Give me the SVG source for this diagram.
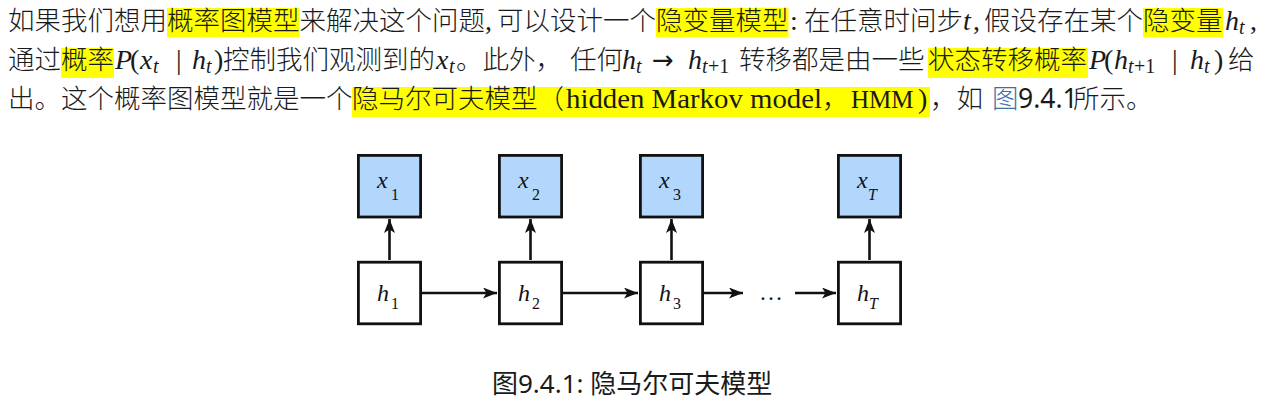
<svg xmlns="http://www.w3.org/2000/svg" width="1283" height="412" viewBox="0 0 1283 412">
<defs>
<style>
.c{font-family:"Noto Sans CJK SC","Noto Sans",sans-serif;font-size:26.5px;font-weight:300;fill:#1a1a1a}
.m{font-family:"Liberation Serif",serif;font-style:italic;font-size:28px;fill:#1a1a1a}
.r{font-family:"Liberation Serif",serif;font-size:28px;fill:#1a1a1a}
.ar{font-family:"DejaVu Sans",sans-serif;font-size:26px;fill:#1a1a1a}
.s{font-family:"Liberation Serif",serif;font-style:italic;font-size:20px;fill:#1a1a1a}
.su{font-family:"Liberation Serif",serif;font-size:20px;fill:#1a1a1a}
.hl{fill:#ffff00}
.lk{fill:#3f6fa8}
.box{stroke:#111;stroke-width:2.8}
.obs{fill:#b3d6fc}
.hid{fill:#ffffff}
.lbl{font-family:"Liberation Serif",serif;font-style:italic;font-size:24px;fill:#111}
.sub{font-family:"Liberation Serif",serif;font-size:16px;fill:#111}
.subi{font-family:"Liberation Serif",serif;font-style:italic;font-size:16px;fill:#111}
.arr{stroke:#111;stroke-width:2.6;fill:none;marker-end:url(#ah)}
.cap{font-family:"Noto Sans","Noto Sans CJK SC",sans-serif;font-size:26px;fill:#1a1a1a}
</style>
<marker id="ah" viewBox="0 0 14 11" refX="14" refY="5.5" markerWidth="14" markerHeight="11" markerUnits="userSpaceOnUse" orient="auto">
<path d="M0,0 L14,5.5 L0,11 L3.5,5.5 z" fill="#111"/>
</marker>
</defs>
<rect width="1283" height="412" fill="#ffffff"/>

<g id="paragraph">
<rect class="hl" x="167" y="8" width="132.5" height="29"/>
<rect class="hl" x="656" y="8" width="132.5" height="29"/>
<rect class="hl" x="1143" y="8" width="80" height="29"/>
<rect class="hl" x="61" y="48" width="53" height="30"/>
<rect class="hl" x="928" y="48" width="160" height="30"/>
<rect class="hl" x="352" y="87" width="578" height="30"/>

<text class="c" x="8" y="30">如果我们想用</text>
<text class="c" x="167" y="30">概率图模型</text>
<text class="c" x="299.5" y="30">来解决这个问题</text>
<text class="r" x="485" y="30">,</text>
<text class="c" x="497" y="30">可以设计一个</text>
<text class="c" x="656" y="30">隐变量模型</text>
<text class="r" x="790" y="30">:</text>
<text class="c" x="804" y="30">在任意时间步</text>
<text class="m" x="963" y="30">t</text>
<text class="r" x="973" y="30">,</text>
<text class="c" x="984" y="30">假设存在某个</text>
<text class="c" x="1143" y="30">隐变量</text>
<text class="m" x="1225" y="30">h</text><text class="s" x="1239" y="34">t</text>
<text class="r" x="1250" y="30">,</text>

<text class="c" x="8" y="69">通过</text>
<text class="c" x="61" y="69">概率</text>
<text class="m" x="115" y="69">P</text>
<text class="r" x="130" y="69">(</text>
<text class="m" x="140" y="69">x</text><text class="s" x="153" y="73">t</text>
<text class="r" x="176" y="69">|</text>
<text class="m" x="192" y="69">h</text><text class="s" x="206" y="73">t</text>
<text class="r" x="214" y="69">)</text>
<text class="c" x="223" y="69">控制我们观测到的</text>
<text class="m" x="436" y="69">x</text><text class="s" x="449" y="73">t</text>
<text class="c" x="456" y="69">。此外，</text>
<text class="c" x="570" y="69">任何</text>
<text class="m" x="622" y="69">h</text><text class="s" x="636" y="73">t</text>
<text class="ar" x="652" y="69">→</text>
<text class="m" x="688" y="69">h</text><text class="s" x="702" y="73">t</text><text class="su" x="708" y="73">+1</text>
<text class="c" x="739" y="69">转移都是由一些</text>
<text class="c" x="928" y="69">状态转移概率</text>
<text class="m" x="1089" y="69">P</text>
<text class="r" x="1104" y="69">(</text>
<text class="m" x="1114" y="69">h</text><text class="s" x="1128" y="73">t</text><text class="su" x="1134" y="73">+1</text>
<text class="r" x="1172" y="69">|</text>
<text class="m" x="1190" y="69">h</text><text class="s" x="1204" y="73">t</text>
<text class="r" x="1214" y="69">)</text>
<text class="c" x="1228" y="69">给</text>

<text class="c" x="8" y="108">出。这个概率图模型就是一个</text>
<text class="c" x="352" y="108">隐马尔可夫模型（</text>
<text class="r" x="566" y="108" textLength="256" lengthAdjust="spacingAndGlyphs">hidden Markov model</text>
<text class="c" x="822" y="108">，</text>
<text class="r" x="851" y="108" style="font-size:25px">HMM</text>
<text class="r" x="918" y="108">)</text>
<text class="c" x="930" y="108">，如</text>
<text class="c lk" x="992" y="108">图</text>
<text class="cap lk" x="1018" y="108" style="font-size:26.5px">9.4.1</text>
<text class="c" x="1073" y="108">所示。</text>
</g>

<g id="connectors">
<line class="arr" x1="389.5" y1="260" x2="389.5" y2="219"/>
<line class="arr" x1="530.5" y1="260" x2="530.5" y2="219"/>
<line class="arr" x1="671.5" y1="260" x2="671.5" y2="219"/>
<line class="arr" x1="869.5" y1="260" x2="869.5" y2="219"/>
<line class="arr" x1="422" y1="293" x2="497" y2="293"/>
<line class="arr" x1="563" y1="293" x2="638" y2="293"/>
<line class="arr" x1="704" y1="293" x2="743" y2="293"/>
<line class="arr" x1="795" y1="293" x2="836" y2="293"/>
</g>

<g id="node-x1"><rect class="box obs" x="358.4" y="155.4" width="62.2" height="61.6"/><text class="lbl" x="377" y="188">x</text><text class="sub" x="391" y="200">1</text></g>
<g id="node-x2"><rect class="box obs" x="499.4" y="155.4" width="62.2" height="61.6"/><text class="lbl" x="518" y="188">x</text><text class="sub" x="532" y="200">2</text></g>
<g id="node-x3"><rect class="box obs" x="640.4" y="155.4" width="62.2" height="61.6"/><text class="lbl" x="659" y="188">x</text><text class="sub" x="673" y="200">3</text></g>
<g id="node-xT"><rect class="box obs" x="838.4" y="155.4" width="62.2" height="61.6"/><text class="lbl" x="857" y="188">x</text><text class="subi" x="868" y="200">T</text></g>

<g id="node-h1"><rect class="box hid" x="358.4" y="262.2" width="62.2" height="61.6"/><text class="lbl" x="377" y="301">h</text><text class="sub" x="391" y="309">1</text></g>
<g id="node-h2"><rect class="box hid" x="499.4" y="262.2" width="62.2" height="61.6"/><text class="lbl" x="518" y="301">h</text><text class="sub" x="532" y="309">2</text></g>
<g id="node-h3"><rect class="box hid" x="640.4" y="262.2" width="62.2" height="61.6"/><text class="lbl" x="659" y="301">h</text><text class="sub" x="673" y="309">3</text></g>
<g id="node-hT"><rect class="box hid" x="838.4" y="262.2" width="62.2" height="61.6"/><text class="lbl" x="857" y="301">h</text><text class="subi" x="869" y="309">T</text></g>

<text id="ellipsis" x="771" y="300" text-anchor="middle" style="font-family:'Liberation Serif',serif;font-size:24px;fill:#111">…</text>

<g id="caption">
<text class="cap" x="492" y="393">图9.4.1: 隐马尔可夫模型</text>
</g>
</svg>
